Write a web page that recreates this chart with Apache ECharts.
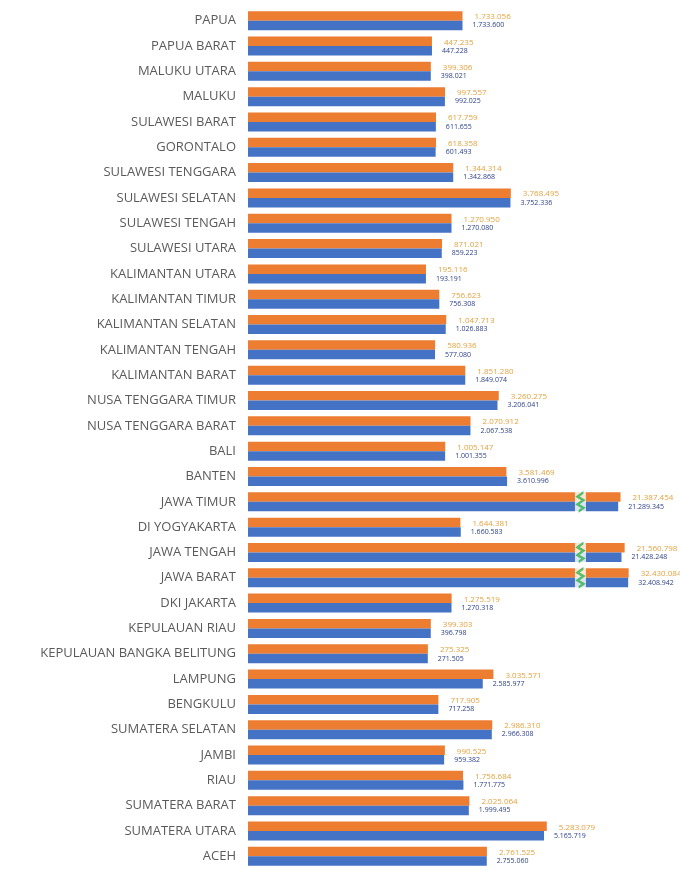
<!DOCTYPE html>
<html>
<head>
<meta charset="utf-8">
<script src="https://cdn.jsdelivr.net/npm/echarts@6/dist/echarts.min.js"></script>
<style>
  html, body { margin: 0; padding: 0; background: #fff; }
  #chart { width: 680px; height: 869px; }
</style>
</head>
<body>
<div id="chart"></div>
<script>
// provinsi, urutan dari atas ke bawah
const provinces = [
  'PAPUA', 'PAPUA BARAT', 'MALUKU UTARA', 'MALUKU', 'SULAWESI BARAT', 'GORONTALO',
  'SULAWESI TENGGARA', 'SULAWESI SELATAN', 'SULAWESI TENGAH', 'SULAWESI UTARA',
  'KALIMANTAN UTARA', 'KALIMANTAN TIMUR', 'KALIMANTAN SELATAN', 'KALIMANTAN TENGAH',
  'KALIMANTAN BARAT', 'NUSA TENGGARA TIMUR', 'NUSA TENGGARA BARAT', 'BALI', 'BANTEN',
  'JAWA TIMUR', 'DI YOGYAKARTA', 'JAWA TENGAH', 'JAWA BARAT', 'DKI JAKARTA',
  'KEPULAUAN RIAU', 'KEPULAUAN BANGKA BELITUNG', 'LAMPUNG', 'BENGKULU',
  'SUMATERA SELATAN', 'JAMBI', 'RIAU', 'SUMATERA BARAT', 'SUMATERA UTARA', 'ACEH'
]
// seri oranye
const orangeValues = [
  1733056, 447235, 399306, 997557, 617759, 618358,
  1344314, 3768495, 1270950, 871021,
  195116, 756623, 1047713, 580936,
  1851280, 3260275, 2070912, 1005147, 3581469,
  21387454, 1644381, 21560798, 32430084, 1275519,
  399303, 275325, 3035571, 717905,
  2986310, 990525, 1756684, 2025064, 5283079, 2761525
]
// seri biru
const blueValues = [
  1733600, 447228, 398021, 992025, 611655, 601493,
  1342868, 3752336, 1270080, 859223,
  193191, 756308, 1026883, 577080,
  1849074, 3206041, 2067538, 1001355, 3610996,
  21289345, 1660583, 21428248, 32408942, 1270318,
  396798, 271505, 2585977, 717258,
  2966308, 959382, 1771775, 1999495, 5165719, 2755060
]

// batang pada gambar tidak mulai dari nol -> digeser sebesar BASE
const BASE = 7300000
// potongan sumbu (dalam nilai setelah digeser)
const BREAK1 = [14000000, 27000000]
const BREAK2 = [29000000, 39700000]

const fmt = (v) => String(v).replace(/\B(?=(\d{3})+(?!\d))/g, '.')
const orangeShifted = orangeValues.map((v) => v + BASE)
const blueShifted = blueValues.map((v) => v + BASE)

// tanda potong untuk batang yang melewati potongan pertama
const breakMid = (BREAK1[0] + BREAK1[1]) / 2
const brokenRows = provinces
  .filter((p, i) => orangeShifted[i] > BREAK1[1])
  .map((p) => [breakMid, p])

const chart = echarts.init(document.getElementById('chart'))

const option = {
  animation: false,
  backgroundColor: '#fff',
  grid: {
    left: 248,
    top: 8,
    width: 412,
    height: 864,
  },
  xAxis: {
    type: 'value',
    min: 0,
    max: 41050000,
    axisLine: { show: false },
    axisTick: { show: false },
    axisLabel: { show: false },
    splitLine: { show: false },
    breaks: [
      { start: BREAK1[0], end: BREAK1[1], gap: 12 },
      { start: BREAK2[0], end: BREAK2[1], gap: 1 },
    ],
    breakArea: { show: false },
  },
  yAxis: {
    type: 'category',
    inverse: true,
    data: provinces,
    axisLine: { show: false },
    axisTick: { show: false },
    axisLabel: {
      color: '#5a5a5a',
      fontSize: 13,
      fontFamily: 'Open Sans',
      margin: 12,
    },
  },
  series: [
    {
      name: 'Seri 1',
      type: 'bar',
      data: orangeShifted,
      barWidth: 9.5,
      barGap: '0%',
      itemStyle: { color: '#ED7D31' },
      label: {
        show: true,
        position: 'right',
        distance: 12,
        offset: [0, 1],
        color: '#E3A23E',
        fontSize: 8,
        fontFamily: 'Open Sans',
        formatter: (p) => fmt(orangeValues[p.dataIndex]),
      },
    },
    {
      name: 'Seri 2',
      type: 'bar',
      data: blueShifted,
      barWidth: 9.5,
      barGap: '0%',
      itemStyle: { color: '#4472C4' },
      label: {
        show: true,
        position: 'right',
        distance: 10,
        color: '#2B3F86',
        fontSize: 7,
        fontFamily: 'Open Sans',
        formatter: (p) => fmt(blueValues[p.dataIndex]),
      },
    },
    {
      // celah putih pada batang yang dipotong
      type: 'scatter',
      data: brokenRows,
      symbol: 'rect',
      symbolSize: [11, 21],
      itemStyle: { color: '#fff' },
      silent: true,
      z: 5,
    },
    {
      // garis zigzag hijau
      type: 'scatter',
      data: brokenRows,
      symbol: 'path://M6,0 L1,5 L6,9 L1,14 L6,18 L2,22',
      symbolSize: [6, 19],
      itemStyle: { color: 'rgba(0,0,0,0)', borderColor: '#2DB34A', borderWidth: 1.6 },
      silent: true,
      z: 6,
    },
  ],
}

chart.setOption(option, true)
</script>
</body>
</html>
